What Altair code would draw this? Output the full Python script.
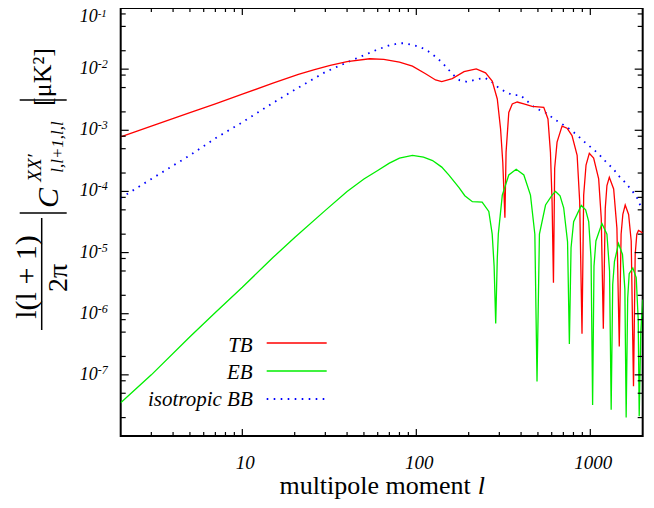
import altair as alt
import pandas as pd

# ---- data ----
tb_l = [2, 3, 5, 7, 10, 15, 21, 26, 32, 40, 54, 65, 80, 95, 113, 129, 140, 161, 188, 221, 250,
        273, 292, 305, 314, 323, 328, 340, 356, 380, 415, 463, 540, 571, 590, 603, 614,
        624, 644, 688, 735, 785, 840, 869, 896, 916, 945, 987, 1045, 1117, 1156, 1188,
        1219, 1246, 1286, 1362, 1422, 1467, 1503, 1538, 1587, 1660, 1718, 1771, 1811,
        1850, 1892, 2000]
tb_v = [7.8e-4, 1.17e-3, 1.95e-3, 2.7e-3, 3.9e-3, 5.9e-3, 8.2e-3, 9.8e-3, 1.15e-2, 1.33e-2, 1.48e-2,
        1.45e-2, 1.30e-2, 1.12e-2, 8.4e-3, 6.65e-3, 6.25e-3, 7.0e-3, 9.1e-3, 1.01e-2, 8.7e-3,
        6.4e-3, 3.25e-3, 1.05e-3, 3.0e-4, 3.7e-5, 4.4e-4, 1.96e-3, 2.7e-3, 2.9e-3, 2.7e-3,
        2.46e-3, 2.37e-3, 1.53e-3, 4.4e-4, 6.8e-5, 3.2e-6,
        2.4e-4, 6.4e-4, 1.17e-3, 1.08e-3, 8.2e-4, 3.9e-4, 6.8e-5, 4.7e-7, 8.7e-5, 2.7e-4,
        4.2e-4, 3.5e-4, 1.6e-4, 3.6e-5, 5.7e-7,
        5.3e-5, 1.25e-4, 1.7e-4, 1.1e-4, 2.5e-5, 2.9e-7, 2.0e-5, 4.2e-5, 6.0e-5, 4.2e-5,
        1.55e-5, 6.5e-8, 9.3e-6, 2.0e-5, 2.3e-5, 2.1e-5]

eb_l = [2, 3, 5, 7, 10, 15, 20, 30, 40, 50, 60, 70, 80, 95, 110, 124, 140, 154, 176, 190,
        210, 239, 261, 273, 280, 286, 292, 296, 312, 340, 375, 415, 453, 480, 494, 510,
        553, 603, 631, 670, 703, 740, 758, 775, 802, 887, 940, 979, 1010, 1031, 1050,
        1077, 1166, 1246, 1290, 1318, 1345, 1377, 1452, 1531, 1580, 1607, 1640, 1673,
        1755, 1836, 1885, 1910, 1950, 2000]
eb_v = [3.5e-8, 1.0e-7, 4.2e-7, 1.05e-6, 2.7e-6, 8.3e-6, 1.76e-5, 4.9e-5, 1.0e-4, 1.6e-4,
        2.2e-4, 2.9e-4, 3.5e-4, 3.9e-4, 3.65e-4, 3.2e-4, 2.5e-4, 1.85e-4, 1.15e-4, 8.5e-5,
        6.8e-5, 6.7e-5, 4.7e-5, 2.0e-5, 6.0e-6, 6.9e-7, 8.0e-6, 2.0e-5, 8.7e-5, 1.86e-4,
        2.3e-4, 1.86e-4, 8.7e-5, 2.0e-5, 7.8e-8, 2.0e-5,
        6.0e-5, 8.7e-5, 1.0e-4, 8.5e-5, 5.4e-5, 1.5e-5, 3.2e-7, 1.2e-5, 3.2e-5, 5.9e-5,
        5.0e-5, 3.2e-5, 8.0e-6, 3.2e-8, 6.0e-6,
        1.55e-5, 3.0e-5, 2.0e-5, 5.0e-6, 2.7e-8, 3.0e-6, 7.2e-6, 1.4e-5, 9.3e-6, 2.5e-6,
        2.0e-8, 1.8e-6, 4.5e-6, 5.6e-6, 3.9e-6, 8.0e-7, 2.1e-8, 5.0e-7, 1.7e-6]

bb_l = [2, 3, 5, 7, 10, 15, 20, 30, 44, 60, 70, 80, 85, 95, 106, 117, 128, 140, 151, 162,
        177, 196, 221, 248, 271, 296, 323, 359, 397, 434, 473, 518, 564, 617, 673, 735,
        802, 865, 935, 1013, 1097, 1177, 1262, 1349, 1440, 1538, 1644, 1750, 1850, 1933, 2000]
bb_v = [7.8e-5, 1.6e-4, 3.9e-4, 7.4e-4, 1.35e-3, 2.8e-3, 4.6e-3, 9.0e-3, 1.45e-2, 2.1e-2,
        2.45e-2, 2.65e-2, 2.65e-2, 2.5e-2, 2.28e-2, 1.96e-2, 1.62e-2, 1.3e-2, 1.03e-2, 8.2e-3,
        6.6e-3, 6.2e-3, 6.8e-3, 7.2e-3, 6.2e-3, 5.0e-3, 4.3e-3, 3.75e-3, 3.75e-3, 3.0e-3,
        2.43e-3, 2.1e-3, 1.9e-3, 1.53e-3, 1.32e-3, 1.12e-3, 9.3e-4, 7.7e-4, 6.3e-4, 5.2e-4,
        4.3e-4, 3.5e-4, 2.8e-4, 2.4e-4, 1.85e-4, 1.55e-4, 1.24e-4, 1.0e-4, 8.0e-5, 6.0e-5, 5.0e-5]

x_major = [10, 100, 1000]
x_major_labels = ["10", "100", "1000"]
x_minor = [3, 4, 5, 6, 7, 8, 9, 20, 30, 40, 50, 60, 70, 80, 90,
           200, 300, 400, 500, 600, 700, 800, 900]
y_label_exp = [-2, -3, -4, -5, -6, -7]
y_top_exp = "-1"
y_major = [1e-2, 1e-3, 1e-4, 1e-5, 1e-6, 1e-7]
y_minor_mant = [2, 5, 8]
y_decades = [1e-8, 1e-7, 1e-6, 1e-5, 1e-4, 1e-3, 1e-2]

W, H = 522, 428
SERIF = "Liberation Serif"
xs = alt.Scale(type="log", domain=[2, 2000], nice=False)
ys = alt.Scale(type="log", domain=[1e-8, 1e-1], nice=False)
one = pd.DataFrame({"a": [0]})


def series(l, v, color, **kw):
    df = pd.DataFrame({"l": l, "v": v})
    return alt.Chart(df).mark_line(color=color, clip=True, **kw).encode(
        x=alt.X("l:Q", scale=xs, axis=None),
        y=alt.Y("v:Q", scale=ys, axis=None),
        order="l:Q",
    )


def xticks(vals, length):
    df = pd.DataFrame({"t": vals})
    base = alt.Chart(df).mark_rule(color="black", strokeWidth=1.2)
    bot = base.encode(x=alt.X("t:Q", scale=xs, axis=None), y=alt.value(H), y2=alt.value(H - length))
    top = base.encode(x=alt.X("t:Q", scale=xs, axis=None), y=alt.value(0), y2=alt.value(length))
    return [bot, top]


def yticks(vals, length):
    df = pd.DataFrame({"t": vals})
    base = alt.Chart(df).mark_rule(color="black", strokeWidth=1.2)
    lft = base.encode(y=alt.Y("t:Q", scale=ys, axis=None), x=alt.value(0), x2=alt.value(length))
    rgt = base.encode(y=alt.Y("t:Q", scale=ys, axis=None), x=alt.value(W), x2=alt.value(W - length))
    return [lft, rgt]


def txt(s, x, y, size, angle=0, align="center", italic=False, baseline="middle"):
    kw = dict(text=s, font=SERIF, fontSize=size, align=align, baseline=baseline, color="black")
    if angle:
        kw["angle"] = angle
    if italic:
        kw["fontStyle"] = "italic"
    return alt.Chart(one).mark_text(**kw).encode(x=alt.value(x), y=alt.value(y))


def hline(x1, x2, y, color="black", width=1.5, **kw):
    return alt.Chart(one).mark_rule(color=color, strokeWidth=width, **kw).encode(
        x=alt.value(x1), x2=alt.value(x2), y=alt.value(y))


def vline(x, y1, y2, width=1.5):
    return alt.Chart(one).mark_rule(color="black", strokeWidth=width).encode(
        x=alt.value(x), y=alt.value(y1), y2=alt.value(y2))


layers = []
layers.append(series(bb_l, bb_v, "#0000ff", strokeWidth=1.8, strokeDash=[1.6, 5.4]))
layers.append(series(tb_l, tb_v, "#ff0000", strokeWidth=1.3))
layers.append(series(eb_l, eb_v, "#00ee00", strokeWidth=1.3))

layers += xticks(x_major, 7)
layers += xticks(x_minor, 4)
layers += yticks(y_major, 8)
y_minor = [m * d for d in y_decades for m in y_minor_mant]
layers += yticks(y_minor, 5)

# x tick labels
xl = pd.DataFrame({"t": x_major, "s": x_major_labels})
layers.append(alt.Chart(xl).mark_text(font=SERIF, fontSize=19, fontStyle="italic", dx=3,
                                      baseline="middle", color="black").encode(
    x=alt.X("t:Q", scale=xs, axis=None), y=alt.value(455), text="s:N"))

# y tick labels 10^e
yl = pd.DataFrame({"e": y_label_exp})
yl["v"] = [10.0 ** e for e in y_label_exp]
yl["s"] = [str(e) for e in y_label_exp]
layers.append(alt.Chart(yl).mark_text(text="10", font=SERIF, fontSize=18, fontStyle="italic",
                                      align="right", baseline="middle", color="black").encode(
    x=alt.value(-23), y=alt.Y("v:Q", scale=ys, axis=None)))
layers.append(alt.Chart(yl).mark_text(font=SERIF, fontSize=12, fontStyle="italic", dy=-5,
                                      align="left", baseline="middle", color="black").encode(
    x=alt.value(-23), y=alt.Y("v:Q", scale=ys, axis=None), text="s:N"))
# top label, nudged down so it stays visible at the top edge
layers.append(txt("10", -23, 9, 18, align="right", italic=True))
layers.append(txt(y_top_exp, -23, 6, 11, align="left", italic=True))

# x title
layers.append(txt("multipole moment", 350, 486, 26, align="right", baseline="alphabetic"))
layers.append(txt("l", 357, 486, 26, align="left", italic=True, baseline="alphabetic"))

# y title (rotated formula)
layers.append(txt("l(l + 1)", -94, 269, 30, angle=270))
layers.append(vline(-79, 210, 322))
layers.append(txt("2π", -62, 270, 28, angle=270))
layers.append(hline(-101, -54, 205))
layers.append(txt("C", -72, 190, 30, angle=270, italic=True))
layers.append(txt("XX′", -86, 160, 19, angle=270, italic=True))
layers.append(txt("l,l+1,l,l", -63, 139, 17, angle=270, italic=True))
layers.append(hline(-101, -54, 92))
layers.append(txt("[μK²]", -78, 69, 26, angle=270))

# legend
layers.append(txt("TB", 132, 338, 21, align="right", italic=True))
layers.append(hline(146, 206, 335, color="#ff0000", width=1.3))
layers.append(txt("EB", 132, 365, 21, align="right", italic=True))
layers.append(hline(146, 206, 363, color="#00ee00", width=1.3))
layers.append(txt("isotropic BB", 132, 392, 21, align="right", italic=True))
layers.append(hline(146, 206, 391, color="#0000ff", width=1.8, strokeDash=[1.6, 5.4]))

chart = alt.layer(*layers).properties(
    width=W, height=H,
    autosize=alt.AutoSizeParams(type="none"),
    padding={"left": 112.7, "top": 0, "right": 3, "bottom": 64},
).configure_view(stroke="black", strokeWidth=2)

chart.save("out.html", embed_options={"renderer": "svg", "actions": False})
